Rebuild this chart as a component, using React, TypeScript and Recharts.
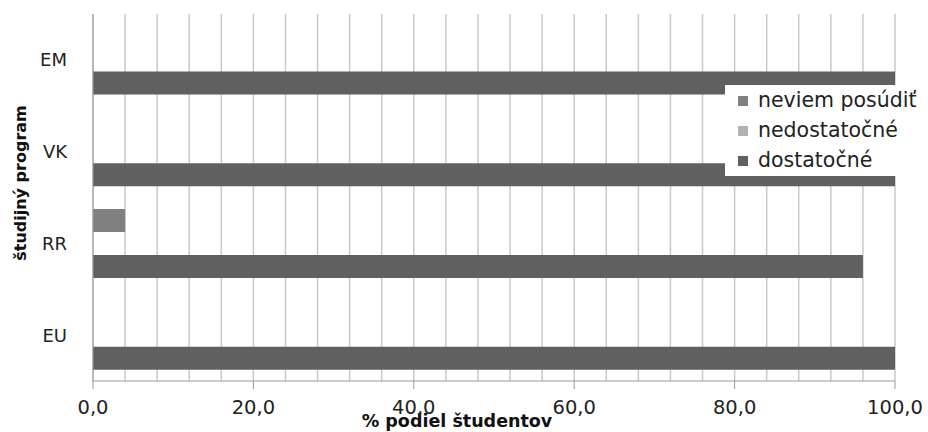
import React, { ReactElement } from "react";
import {
    BarChart,
    Bar,
    XAxis,
    YAxis,
    CartesianGrid,
    Legend,
    Label
} from "recharts";

const programs: string[] = ["EM", "VK", "RR", "EU"];
const neviemPosudit: number[] = [0, 0, 4, 0];
const nedostatocne: number[] = [0, 0, 0, 0];
const dostatocne: number[] = [100, 100, 96, 100];

const seriesNames: string[] = ["neviem posúdiť", "nedostatočné", "dostatočné"];
const xTicks: number[] = [0, 20, 40, 60, 80, 100];
const gridTicks: number[] = [
    0, 4, 8, 12, 16, 20, 24, 28, 32, 36, 40, 44, 48,
    52, 56, 60, 64, 68, 72, 76, 80, 84, 88, 92, 96, 100
];

const data = programs.map((name, i) => ({
    name,
    neviem: neviemPosudit[i],
    nedost: nedostatocne[i],
    dost: dostatocne[i]
}));

const FONT = "'DejaVu Sans', sans-serif";
const formatTick = (v: number): string => v.toFixed(1).replace(".", ",");

const App = (): ReactElement => {
    return (
        <div style={{ position: "absolute", left: 0, top: 0, fontFamily: FONT }}>
            <BarChart
                width={928}
                height={432}
                data={data}
                layout="vertical"
                margin={{ top: 14, right: 33, bottom: 0, left: 0 }}
                barCategoryGap="12.5%"
                barGap={0}
            >
                {/* minor vertical grid every 4 % */}
                <CartesianGrid
                    horizontal={false}
                    stroke="#c9c9c9"
                    strokeWidth={1.5}
                    verticalCoordinatesGenerator={({ offset }: any) =>
                        gridTicks.map((t) => offset.left + (offset.width * t) / 100)
                    }
                />
                <XAxis
                    type="number"
                    domain={[0, 100]}
                    ticks={xTicks}
                    tickFormatter={formatTick}
                    height={51}
                    tickSize={8}
                    tickMargin={11}
                    stroke="#999999"
                    tick={{ fill: "#222", fontSize: 19.5, fontFamily: FONT }}
                >
                    <Label
                        content={() => (
                            <text
                                x={457}
                                y={421}
                                textAnchor="middle"
                                dominantBaseline="central"
                                fontFamily={FONT}
                                fontWeight="bold"
                                fontSize={17.5}
                                fill="#111"
                            >
                                % podiel študentov
                            </text>
                        )}
                    />
                </XAxis>
                <YAxis
                    type="category"
                    dataKey="name"
                    width={93}
                    tickLine={false}
                    tickSize={0}
                    tickMargin={26}
                    stroke="#999999"
                    tick={{ fill: "#222", fontSize: 18, fontFamily: FONT }}
                >
                    <Label
                        content={() => (
                            <text
                                x={20}
                                y={183}
                                transform="rotate(-90 20 183)"
                                textAnchor="middle"
                                dominantBaseline="central"
                                fontFamily={FONT}
                                fontWeight="bold"
                                fontSize={16}
                                fill="#111"
                            >
                                študijný program
                            </text>
                        )}
                    />
                </YAxis>
                <Legend
                    layout="vertical"
                    align="center"
                    verticalAlign="middle"
                    iconType="square"
                    iconSize={10}
                    itemSorter={(item: any) => seriesNames.indexOf(item.value)}
                    formatter={(value: string) => (
                        <span style={{ color: "#222", marginLeft: 6 }}>{value}</span>
                    )}
                    wrapperStyle={{
                        left: 725,
                        top: 85,
                        width: 203,
                        height: 91,
                        backgroundColor: "#fff",
                        fontFamily: FONT,
                        fontSize: 20.5,
                        lineHeight: "30px",
                        paddingLeft: 13,
                        boxSizing: "border-box",
                        whiteSpace: "nowrap"
                    }}
                />
                <Bar dataKey="neviem" name={seriesNames[0]} fill="#808080" isAnimationActive={false} />
                <Bar dataKey="nedost" name={seriesNames[1]} fill="#b2b2b2" isAnimationActive={false} />
                <Bar dataKey="dost" name={seriesNames[2]} fill="#606060" isAnimationActive={false} />
            </BarChart>
        </div>
    );
};

export default App;
